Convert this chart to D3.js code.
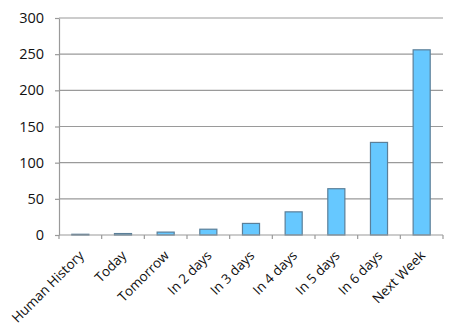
<!DOCTYPE html>
<html>
<head>
<meta charset="utf-8">
<script src="https://cdn.jsdelivr.net/npm/d3@7"></script>
<style>
  body { margin: 0; background: #fff; }
  text { font-family: "Open Sans", "Liberation Sans", sans-serif; fill: #111; }
</style>
</head>
<body>
<svg></svg>
<script>
let categories = ["Human History", "Today", "Tomorrow", "In 2 days", "In 3 days",
                  "In 4 days", "In 5 days", "In 6 days", "Next Week"];
let values = [1, 2, 4, 8, 16, 32, 64, 128, 256];
let yTicks = [0, 50, 100, 150, 200, 250, 300];

let svgWidth = 467;
let svgHeight = 328;
let plotLeft = 59, plotRight = 443, plotTop = 18, plotBottom = 235;

var svg = d3.select("svg")
    .attr("width", svgWidth)
    .attr("height", svgHeight);

let xScale = d3.scaleBand()
    .domain(categories)
    .range([plotLeft, plotRight])
    .paddingInner(0.6)
    .paddingOuter(0.3);

let yScale = d3.scaleLinear()
    .domain([0, 300])
    .range([plotBottom, plotTop]);

// gridlines
svg.append("g")
    .selectAll("line")
    .data(yTicks.filter(d => d > 0))
    .enter()
    .append("line")
        .attr("x1", plotLeft)
        .attr("x2", plotRight)
        .attr("y1", d => yScale(d))
        .attr("y2", d => yScale(d))
        .attr("stroke", "#9a9a9a")
        .attr("stroke-width", 1.2);

// y axis
let yAxis = d3.axisLeft(yScale)
    .tickValues(yTicks)
    .tickSize(4)
    .tickPadding(11)
    .tickSizeOuter(0);
let gy = svg.append("g")
    .attr("transform", `translate(${plotLeft}, 0)`)
    .call(yAxis);
gy.selectAll("line, path").attr("stroke", "#9a9a9a").attr("stroke-width", 1.2);
gy.selectAll("text").attr("font-size", 14.5).attr("fill", "#111")
    .attr("font-family", "'Open Sans', 'Liberation Sans', sans-serif");

// bars
svg.selectAll("rect.bar")
    .data(values)
    .enter()
    .append("rect")
        .attr("class", "bar")
        .attr("x", (d, i) => xScale(categories[i]))
        .attr("y", d => yScale(d))
        .attr("width", xScale.bandwidth())
        .attr("height", d => plotBottom - yScale(d))
        .attr("fill", "#66c8ff")
        .attr("stroke", "#5b7f99")
        .attr("stroke-width", 1.2);

// x axis with ticks between categories
let boundaries = d3.range(categories.length + 1).map(i => plotLeft + i * (plotRight - plotLeft) / categories.length);
let gx = svg.append("g");
gx.append("line")
    .attr("x1", plotLeft).attr("x2", plotRight)
    .attr("y1", plotBottom).attr("y2", plotBottom)
    .attr("stroke", "#9a9a9a").attr("stroke-width", 1.2);
gx.selectAll("line.tick")
    .data(boundaries)
    .enter()
    .append("line")
        .attr("class", "tick")
        .attr("x1", d => d).attr("x2", d => d)
        .attr("y1", plotBottom).attr("y2", plotBottom + 4)
        .attr("stroke", "#9a9a9a").attr("stroke-width", 1.2);

gx.selectAll("text")
    .data(categories)
    .enter()
    .append("text")
        .text(d => d)
        .attr("font-size", 13.5)
        .attr("text-anchor", "end")
        .attr("transform", d => `translate(${xScale(d) + xScale.bandwidth() / 2 + 1}, ${plotBottom + 18}) rotate(-45)`)
        .attr("dy", "0.35em");
</script>
</body>
</html>
